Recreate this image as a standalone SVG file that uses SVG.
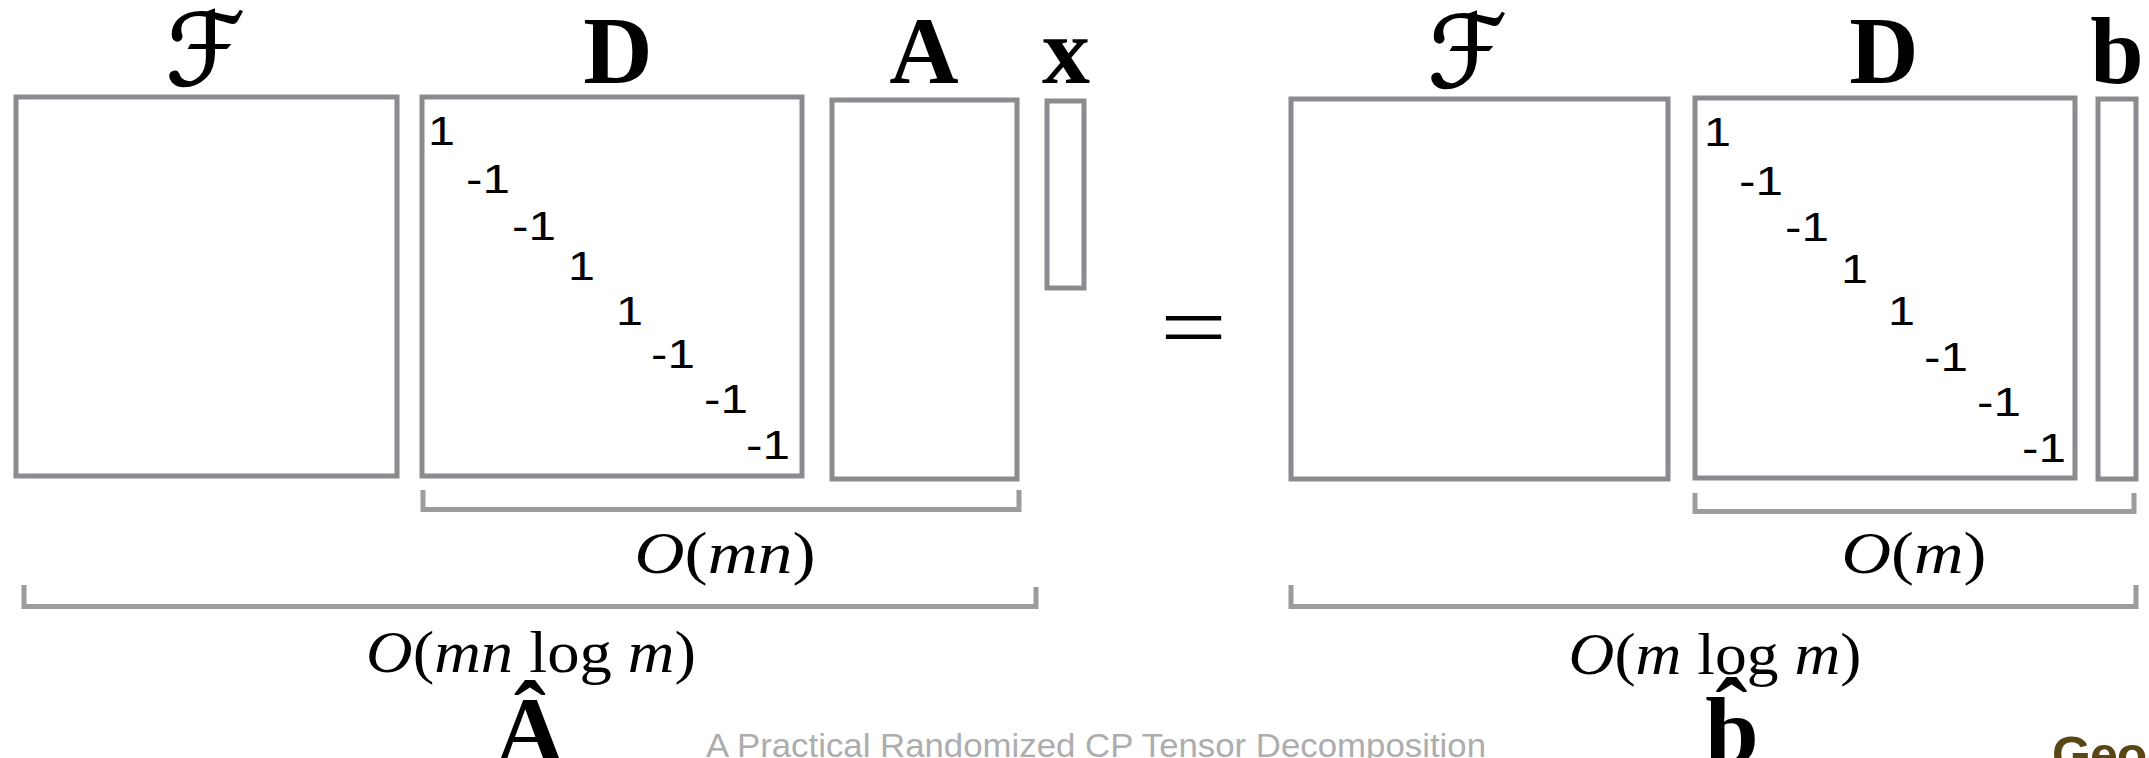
<svg xmlns="http://www.w3.org/2000/svg" width="2149" height="758" viewBox="0 0 2149 758">
<style>
.box{fill:none;stroke:#898b8e;stroke-width:5}
.br{fill:none;stroke:#9c9c9c;stroke-width:5}
.lbl{font-family:"Liberation Serif",serif;font-weight:bold;font-size:96px;fill:#000;text-anchor:middle}
.scr{font-family:"DejaVu Serif","DejaVu Sans",serif;font-size:100px;fill:#000;stroke:#000;stroke-width:1.6;text-anchor:middle}
.num{font-family:"Liberation Sans",Arial,sans-serif;font-size:41px;fill:#000}
.math{font-family:"Liberation Serif",serif;font-size:60px;fill:#000;text-anchor:middle}
.it{font-style:italic}
.foot{font-family:"Liberation Sans",Arial,sans-serif;font-size:34px;fill:#adadad}
.logo{font-family:"Liberation Sans",Arial,sans-serif;font-weight:bold;font-size:50px;fill:#5a4515}
</style>
<rect width="2149" height="758" fill="#fff"/>

<g id="F-left">
<rect class="box" x="16" y="97" width="381" height="379"/>
<text class="scr" x="205" y="85">ℱ</text>
</g>

<g id="D-left">
<rect class="box" x="422" y="97" width="380" height="379"/>
<text class="lbl" x="618" y="83">D</text>
<text class="num" x="428" y="145" textLength="27" lengthAdjust="spacingAndGlyphs">1</text>
<text class="num" x="466" y="193" textLength="44" lengthAdjust="spacingAndGlyphs">-1</text>
<text class="num" x="512" y="240" textLength="44" lengthAdjust="spacingAndGlyphs">-1</text>
<text class="num" x="568" y="280" textLength="27" lengthAdjust="spacingAndGlyphs">1</text>
<text class="num" x="616" y="325" textLength="27" lengthAdjust="spacingAndGlyphs">1</text>
<text class="num" x="651" y="368" textLength="44" lengthAdjust="spacingAndGlyphs">-1</text>
<text class="num" x="704" y="413" textLength="44" lengthAdjust="spacingAndGlyphs">-1</text>
<text class="num" x="746" y="459" textLength="44" lengthAdjust="spacingAndGlyphs">-1</text>
</g>

<g id="A">
<rect class="box" x="832" y="100" width="185" height="379"/>
<text class="lbl" x="924" y="83">A</text>
</g>

<g id="x">
<rect class="box" x="1047" y="101" width="37" height="187"/>
<text class="lbl" x="1066" y="83">x</text>
</g>

<g id="equals">
<text x="1160" y="358" font-family="Liberation Serif, serif" font-size="92" textLength="67" lengthAdjust="spacingAndGlyphs">=</text>
</g>

<g id="F-right">
<rect class="box" x="1291" y="99" width="377" height="380"/>
<text class="scr" x="1467" y="87">ℱ</text>
</g>

<g id="D-right">
<rect class="box" x="1695" y="98" width="380" height="380"/>
<text class="lbl" x="1884" y="83">D</text>
<text class="num" x="1704" y="146" textLength="27" lengthAdjust="spacingAndGlyphs">1</text>
<text class="num" x="1739" y="195" textLength="44" lengthAdjust="spacingAndGlyphs">-1</text>
<text class="num" x="1785" y="241" textLength="44" lengthAdjust="spacingAndGlyphs">-1</text>
<text class="num" x="1841" y="283" textLength="27" lengthAdjust="spacingAndGlyphs">1</text>
<text class="num" x="1888" y="325" textLength="27" lengthAdjust="spacingAndGlyphs">1</text>
<text class="num" x="1924" y="371" textLength="44" lengthAdjust="spacingAndGlyphs">-1</text>
<text class="num" x="1977" y="416" textLength="44" lengthAdjust="spacingAndGlyphs">-1</text>
<text class="num" x="2022" y="462" textLength="44" lengthAdjust="spacingAndGlyphs">-1</text>
</g>

<g id="b">
<rect class="box" x="2098" y="99" width="38" height="380"/>
<text class="lbl" x="2117" y="83">b</text>
</g>

<g id="connectors">
<path class="br" d="M423,490 V509.5 H1019 V490"/>
<path class="br" d="M24,585 V606.5 H1036 V587"/>
<path class="br" d="M1695,493 V511.5 H2134 V493"/>
<path class="br" d="M1291,585 V606.5 H2136 V585"/>
</g>

<g id="cost-labels">
<text class="math" x="725" y="573" textLength="181" lengthAdjust="spacingAndGlyphs"><tspan class="it">O</tspan>(<tspan class="it">mn</tspan>)</text>
<text class="math" x="531" y="672" textLength="330" lengthAdjust="spacingAndGlyphs"><tspan class="it">O</tspan>(<tspan class="it">mn</tspan> log <tspan class="it">m</tspan>)</text>
<text class="math" x="1914" y="573" textLength="145" lengthAdjust="spacingAndGlyphs"><tspan class="it">O</tspan>(<tspan class="it">m</tspan>)</text>
<text class="math" x="1715" y="674" textLength="293" lengthAdjust="spacingAndGlyphs"><tspan class="it">O</tspan>(<tspan class="it">m</tspan> log <tspan class="it">m</tspan>)</text>
</g>

<g id="A-hat">
<text class="lbl" x="530" y="763">Â</text>
</g>

<g id="b-hat">
<text class="lbl" x="1732" y="763">b̂</text>
</g>

<g id="footer">
<text class="foot" x="706" y="757" textLength="780" lengthAdjust="spacingAndGlyphs">A Practical Randomized CP Tensor Decomposition</text>
<text class="logo" x="2052" y="772" letter-spacing="-1">Geo</text>
</g>
</svg>
